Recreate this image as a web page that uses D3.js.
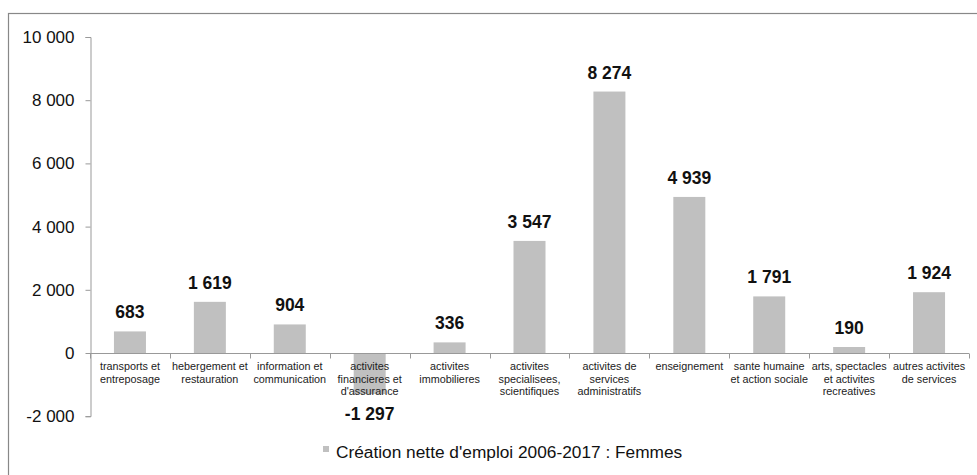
<!DOCTYPE html>
<html lang="fr">
  <head>
    <meta charset="utf-8"/>
    <title>Création nette d'emploi 2006-2017 : Femmes</title>
    <script type="text/javascript" src="https://cdn.jsdelivr.net/npm/d3@7"></script>
    <style>
     body { margin: 0; background: #fff; }
     svg { display: block; font-family: Arial, "Liberation Sans", sans-serif; }
    </style>
  </head>
  <body>
    <script type="text/javascript">
     // data ---------------------------------------------------------------
     const categories = [
       ["transports et", "entreposage"],
       ["hebergement et", "restauration"],
       ["information et", "communication"],
       ["activites", "financieres et", "d'assurance"],
       ["activites", "immobilieres"],
       ["activites", "specialisees,", "scientifiques"],
       ["activites de", "services", "administratifs"],
       ["enseignement"],
       ["sante humaine", "et action sociale"],
       ["arts, spectacles", "et activites", "recreatives"],
       ["autres activites", "de services"]
     ];
     const values = [683, 1619, 904, -1297, 336, 3547, 8274, 4939, 1791, 190, 1924];
     const yTicks = [-2000, 0, 2000, 4000, 6000, 8000, 10000];
     const seriesName = "Création nette d'emploi 2006-2017 : Femmes";

     const W = 977, H = 475;
     // "1 234" style with a plain hyphen for negatives
     const fmt = v => d3.format(",")(v).replace(/,/g, " ").replace("\u2212", "-");

     const svg = d3.select("body").append("svg")
       .attr("width", W).attr("height", H);

     // chart frame (cut off at right and bottom like the source)
     svg.append("rect")
       .attr("x", 8.5).attr("y", 13.5)
       .attr("width", W).attr("height", H)
       .attr("fill", "none").attr("stroke", "#888").attr("stroke-width", 1.2);

     const x = d3.scaleBand()
       .domain(d3.range(values.length))
       .range([90, 969]);
     const y = d3.scaleLinear().domain([-2000, 10000]).range([416.2, 37]);

     // y axis -------------------------------------------------------------
     const yAxis = svg.append("g")
       .attr("transform", "translate(90.5,0)")
       .call(d3.axisLeft(y).tickValues(yTicks).tickFormat(fmt).tickSizeOuter(0).tickSize(5).tickPadding(11));
     yAxis.select(".domain").attr("stroke", "#999");
     yAxis.selectAll(".tick line").attr("stroke", "#999");
     yAxis.selectAll(".tick text").attr("font-size", "17px").attr("fill", "#111")
       .attr("font-family", "Arial, 'Liberation Sans', sans-serif");

     // bars ---------------------------------------------------------------
     const barW = 32;
     svg.selectAll("rect.bar")
       .data(values)
       .enter()
       .append("rect")
       .attr("class", "bar")
       .attr("x", (d, i) => x(i) + x.bandwidth() / 2 - barW / 2)
       .attr("y", d => y(Math.max(0, d)))
       .attr("width", barW)
       .attr("height", d => Math.abs(y(d) - y(0)))
       .attr("fill", "#c0c0c0");

     // zero line with category ticks ---------------------------------------
     const y0 = Math.round(y(0)) + 0.5;
     svg.append("line")
       .attr("x1", 90).attr("x2", 969)
       .attr("y1", y0).attr("y2", y0)
       .attr("stroke", "#999");
     svg.selectAll("line.ctick")
       .data(d3.range(values.length + 1))
       .enter()
       .append("line")
       .attr("class", "ctick")
       .attr("x1", i => Math.round(x.step() * i + 90) + 0.5)
       .attr("x2", i => Math.round(x.step() * i + 90) + 0.5)
       .attr("y1", y0).attr("y2", y0 + 5)
       .attr("stroke", "#999");

     // category labels
     const catG = svg.selectAll("text.cat")
       .data(categories)
       .enter()
       .append("text")
       .attr("class", "cat")
       .attr("text-anchor", "middle")
       .attr("font-size", "10.8px")
       .attr("fill", "#222");
     catG.selectAll("tspan")
       .data((d, i) => d.map(t => ({t: t, i: i})))
       .enter()
       .append("tspan")
       .attr("x", d => x(d.i) + x.bandwidth() / 2)
       .attr("y", (d, j) => 370 + j * 12.5)
       .text(d => d.t);

     // value labels
     svg.selectAll("text.val")
       .data(values)
       .enter()
       .append("text")
       .attr("class", "val")
       .attr("text-anchor", "middle")
       .attr("font-size", "17.5px")
       .attr("font-weight", "bold")
       .attr("fill", "#111")
       .attr("x", (d, i) => x(i) + x.bandwidth() / 2)
       .attr("y", d => d >= 0 ? y(d) - 13 : y(d) + 26)
       .text(fmt);

     // legend ---------------------------------------------------------------
     svg.append("rect")
       .attr("x", 323).attr("y", 446)
       .attr("width", 6).attr("height", 6)
       .attr("fill", "#c0c0c0");
     svg.append("text")
       .attr("x", 336).attr("y", 458)
       .attr("font-size", "17.3px")
       .attr("fill", "#111")
       .text(seriesName);
    </script>
  </body>
</html>
